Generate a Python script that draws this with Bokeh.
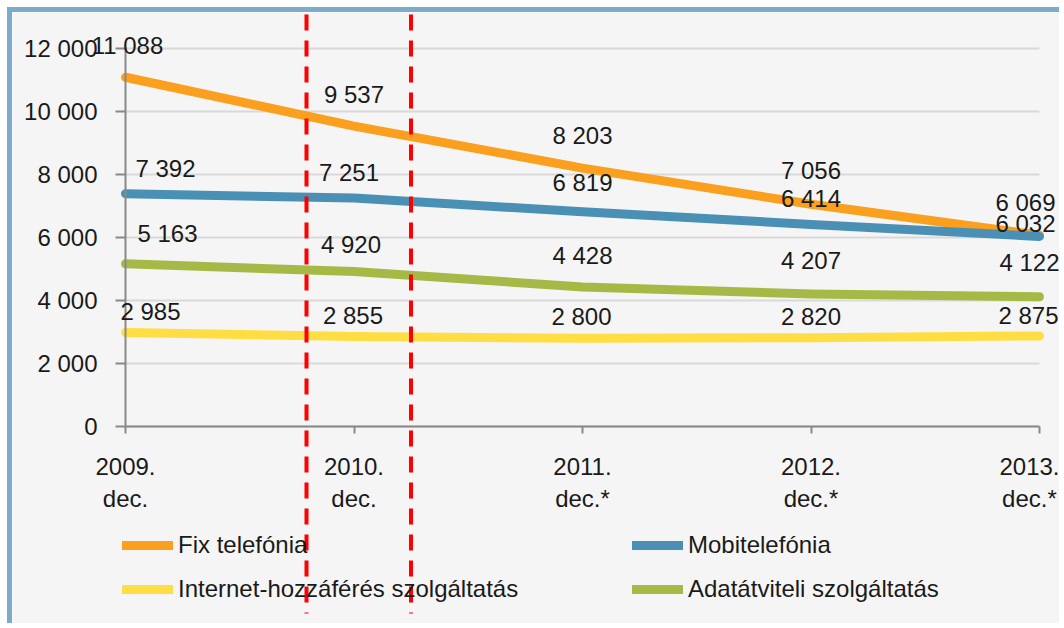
from bokeh.plotting import figure
from bokeh.models import (ColumnDataSource, LabelSet, FixedTicker, Legend, LegendItem, Range1d)
from bokeh.core.properties import value
from bokeh.embed import file_html
from bokeh.resources import INLINE

# ---- data ----
periods = ["2009.\ndec.", "2010.\ndec.", "2011.\ndec.*", "2012.\ndec.*", "2013.\ndec.*"]
fix_telefonia = [11088, 9537, 8203, 7056, 6069]
mobitelefonia = [7392, 7251, 6819, 6414, 6032]
internet = [2985, 2855, 2800, 2820, 2875]
adatatviteli = [5163, 4920, 4428, 4207, 4122]
y_ticks = [0, 2000, 4000, 6000, 8000, 10000, 12000]

series_names = ["Fix telefónia", "Mobitelefónia", "Internet-hozzáférés szolgáltatás",
                "Adatátviteli szolgáltatás"]
series_values = [fix_telefonia, mobitelefonia, internet, adatatviteli]

# ---- styles ----
colors = ["#fa9f1e", "#4a90b5", "#ffde44", "#a5ba46"]
# label offsets in screen pixels (dx right, dy up)
label_dx = [[2, 0, 0, 0, -14], [40, -5, 0, 0, -14], [25, -1, -1, 0, -11], [42, -3, 0, 0, -10]]
label_dy = [[32, 32, 32.5, 33.5, 32.6], [25.5, 25.5, 29, 26, 13], [20.5, 21, 21.5, 21, 20],
            [30, 27, 32, 33, 34]]
FONT = "Liberation Sans"
FS = "24px"
TXT = "#1a1a1a"
AXIS = "#898989"
BG = "#f5f5f5"
FRAME = "#7cabcb"

W, H = 1052, 616            # drawing area (page origin at 12,12)
X0_PX, Y0_PX = 113, 414     # screen position of x=0 / y=0 inside the canvas
px_x = 914 / 4
px_y = 378 / 12000

x = list(range(len(periods)))

p = figure(width=W, height=H, output_backend="svg", toolbar_location=None,
           x_range=Range1d(-X0_PX / px_x, (W - X0_PX) / px_x),
           y_range=Range1d(-(H - Y0_PX) / px_y, Y0_PX / px_y),
           min_border=0, min_border_left=0, min_border_right=0,
           min_border_top=0, min_border_bottom=0,
           background_fill_color=BG, border_fill_color=BG, outline_line_color=None,
           styles={"margin-left": "7px", "margin-top": "7px",
                   "border-left": f"5px solid {FRAME}", "border-top": f"5px solid {FRAME}"})

# axes drawn at the data origin
p.xaxis.fixed_location = 0
p.yaxis.fixed_location = 0
p.xaxis.ticker = FixedTicker(ticks=x)
p.xaxis.major_label_overrides = {i: periods[i] for i in x}
p.xaxis.bounds = (0, len(periods) - 1)
p.yaxis.ticker = FixedTicker(ticks=y_ticks)
p.yaxis.major_label_overrides = {v: f"{v:,}".replace(",", " ") for v in y_ticks}
p.yaxis.bounds = (0, y_ticks[-1])
for ax in (p.xaxis[0], p.yaxis[0]):
    ax.axis_line_color = AXIS
    ax.axis_line_width = 2
    ax.major_tick_line_color = AXIS
    ax.major_tick_line_width = 2
    ax.major_tick_in = 0
    ax.minor_tick_line_color = None
    ax.major_label_text_font = FONT
    ax.major_label_text_font_size = FS
    ax.major_label_text_color = TXT
p.xaxis.major_tick_out = 7
p.yaxis.major_tick_out = 10
p.xaxis.major_label_standoff = 19
p.yaxis.major_label_standoff = 18
p.xgrid.grid_line_color = None
p.ygrid.grid_line_color = None

# horizontal gridlines limited to the category span
p.segment(x0=[x[0]] * len(y_ticks), x1=[x[-1]] * len(y_ticks), y0=y_ticks, y1=y_ticks,
          line_color="#d9d9d9", line_width=2)

renderers = []
for i, vals in enumerate(series_values):
    r = p.line(x, vals, line_color=colors[i], line_width=9, line_cap="round", line_join="round")
    renderers.append(r)

for i, vals in enumerate(series_values):
    src = ColumnDataSource(dict(x=x, y=vals, t=[f"{v:,}".replace(",", " ") for v in vals],
                                dx=label_dx[i], dy=label_dy[i]))
    p.add_layout(LabelSet(x="x", y="y", text="t", source=src, x_offset="dx", y_offset="dy",
                          text_align="center", text_baseline="middle",
                          text_font=value(FONT), text_font_size=value(FS),
                          text_color=value(TXT)))

legend = Legend(items=[LegendItem(label=n, renderers=[r]) for n, r in zip(series_names, renderers)],
                orientation="horizontal", ncols=2, location=(110, 17),
                glyph_width=51, glyph_height=44, label_height=44, label_width=454,
                label_standoff=5, spacing=0, padding=0, margin=0,
                background_fill_alpha=0, border_line_color=None,
                label_text_font=FONT, label_text_font_size=FS, label_text_color=TXT)
p.add_layout(legend, "center")

# red dashed vertical markers (decoration, screen positions converted to data)
mx = [(306 - 125) / px_x, (410.5 - 125) / px_x]
p.segment(x0=mx, x1=mx, y0=[(426 - 14) / px_y] * 2, y1=[(426 - 613) / px_y] * 2,
          line_color="#ff0000", line_width=4, line_dash="16 10", level="overlay")

open("out.html", "w").write(file_html(p, INLINE))
